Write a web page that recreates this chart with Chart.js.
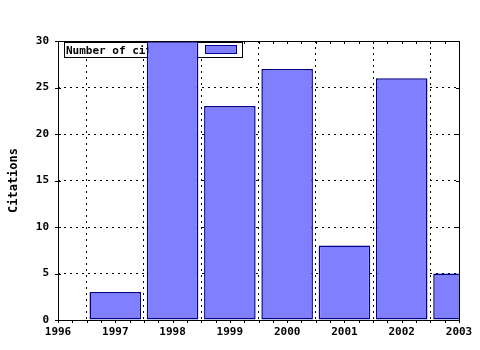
<!DOCTYPE html>
<html>
<head>
<meta charset="utf-8">
<script src="https://cdn.jsdelivr.net/npm/chart.js@4"></script>
<style>
  html, body { margin: 0; padding: 0; background: #fff; }
  #wrap { width: 480px; height: 350px; }
</style>
</head>
<body>
<div id="wrap"><canvas id="citeChart"></canvas></div>
<script>
// Citations per year
const years = [1997, 1998, 1999, 2000, 2001, 2002, 2003];
const citations = [3, 30, 23, 27, 8, 26, 5];
const yTicks = [0, 5, 10, 15, 20, 25, 30];
const seriesLabel = "Number of citations";

const monoFont = { family: "'DejaVu Sans Mono', monospace", size: 11, weight: "bold" };
const titleFont = { family: "'DejaVu Sans Mono', monospace", size: 12, weight: "bold" };
const fillColor = "#8080ff";
const edgeColor = "#00008c";

// frame, minor ticks and the inline legend (drawn before the bars so they cover it)
const framePlugin = {
  id: "frame",
  beforeDatasetsDraw(chart) {
    const { ctx, chartArea: a, scales } = chart;
    ctx.save();
    ctx.strokeStyle = "#000";
    ctx.lineWidth = 1;
    // x ticks, quarter steps
    const xs = scales.x;
    for (let v = xs.min; v <= xs.max + 1e-9; v += 0.25) {
      const px = Math.round(xs.getPixelForValue(v)) + 0.5;
      ctx.beginPath();
      ctx.moveTo(px, a.bottom);
      ctx.lineTo(px, a.bottom + 3);
      ctx.moveTo(px, a.top);
      ctx.lineTo(px, a.top + 3);
      ctx.stroke();
    }
    // y ticks
    const ys = scales.y;
    yTicks.forEach(v => {
      const py = Math.round(ys.getPixelForValue(v)) + 0.5;
      ctx.beginPath();
      ctx.moveTo(a.left - 3, py);
      ctx.lineTo(a.left + 3, py);
      ctx.moveTo(a.right - 3, py);
      ctx.lineTo(a.right, py);
      ctx.stroke();
    });
    // legend box
    const lx = a.left + 6.5, ly = a.top + 1.5;
    ctx.font = `${monoFont.weight} ${monoFont.size}px ${monoFont.family}`;
    const tw = ctx.measureText(seriesLabel).width;
    const boxW = Math.round(tw + 52), boxH = 15;
    ctx.fillStyle = "#fff";
    ctx.fillRect(lx, ly, boxW, boxH);
    ctx.strokeRect(lx, ly, boxW, boxH);
    ctx.fillStyle = "#000";
    ctx.textBaseline = "middle";
    ctx.textAlign = "left";
    ctx.fillText(seriesLabel, lx + 1.5, ly + boxH / 2 + 1);
    const sx = Math.round(lx + tw + 15) + 0.5;
    ctx.fillStyle = fillColor;
    ctx.fillRect(sx, ly + 3, 31, 8);
    ctx.strokeStyle = edgeColor;
    ctx.strokeRect(sx, ly + 3, 31, 8);
    ctx.restore();
  },
  afterDatasetsDraw(chart) {
    const { ctx, chartArea: a } = chart;
    ctx.save();
    ctx.strokeStyle = "#000";
    ctx.lineWidth = 1;
    ctx.strokeRect(Math.round(a.left) + 0.5, Math.round(a.top) + 0.5,
      Math.round(a.right - a.left), Math.round(a.bottom - a.top));
    ctx.restore();
  }
};

new Chart(document.getElementById("citeChart"), {
  type: "bar",
  data: {
    datasets: [
      {
        label: seriesLabel,
        data: years.map((y, i) => ({ x: y, y: citations[i] })),
        backgroundColor: fillColor,
        borderColor: edgeColor,
        borderWidth: 1.5,
        borderSkipped: false,
        barPercentage: 0.9,
        categoryPercentage: 1,
      },
    ],
  },
  options: {
    responsive: true,
    maintainAspectRatio: false,
    animation: false,
    layout: { padding: { left: 0, right: 21, top: 41, bottom: 0 } },
    plugins: {
      legend: { display: false },
      tooltip: { enabled: false },
    },
    scales: {
      x: {
        type: "linear",
        min: 1996,
        max: 2003,
        offset: false,
        ticks: { stepSize: 1, color: "#000", font: monoFont, padding: 6, maxRotation: 0,
          callback: v => String(v) },
        grid: { color: "#000", drawTicks: false },
        border: { display: false, dash: [2, 4] },
        afterFit: s => { s.height = 30; },
      },
      y: {
        min: 0,
        max: 30,
        ticks: { stepSize: 5, color: "#000", font: monoFont, padding: 9 },
        grid: { color: "#000", drawTicks: false },
        border: { display: false, dash: [2, 4] },
        title: { display: true, text: "Citations", color: "#000", font: titleFont,
          padding: { top: 7, bottom: 0 } },
        afterFit: s => { s.width = 58; },
      },
    },
  },
  plugins: [framePlugin],
});
</script>
</body>
</html>
